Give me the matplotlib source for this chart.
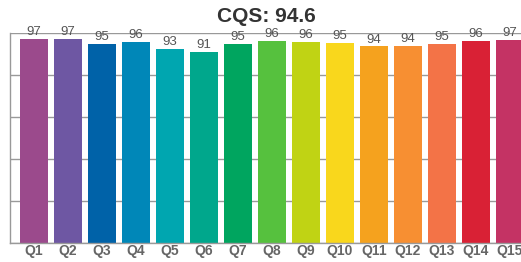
import matplotlib
matplotlib.use("Agg")
import matplotlib.pyplot as plt

categories = ["Q1", "Q2", "Q3", "Q4", "Q5", "Q6", "Q7", "Q8", "Q9", "Q10", "Q11", "Q12", "Q13", "Q14", "Q15"]
values = [97.0, 97.0, 95.0, 95.8, 92.6, 90.8, 95.0, 96.2, 95.8, 95.2, 93.6, 93.8, 95.0, 96.2, 96.8]
colors = ["#9B4A8C", "#6E57A3", "#0062A8", "#0087B8", "#00A6B0", "#00A78C", "#00A55F",
          "#56C13E", "#C0D314", "#F9D71C", "#F5A21E", "#F78F32", "#F37347", "#D92135", "#C43364"]
title = "CQS: 94.6"

plt.rcParams['font.family'] = ['Liberation Sans', 'DejaVu Sans']

W, H = 521, 262
fig = plt.figure(figsize=(W / 100, H / 100), dpi=100)
left_px, right_px, top_px, bot_px = 10, 534, 33, 243
ax = fig.add_axes([left_px / W, (H - bot_px) / H, (right_px - left_px) / W, (bot_px - top_px) / H])

x = list(range(len(categories)))
ax.bar(x, values, width=28 / 34, color=colors, zorder=2)
ax.set_xlim(-0.706, len(categories) - 1 + 0.706)
ax.set_ylim(0, 100)
ax.set_yticks([0, 20, 40, 60, 80, 100])
ax.yaxis.grid(True, color="#999999", linewidth=1, zorder=1)
ax.set_yticklabels([])
ax.tick_params(axis='both', length=0)
ax.set_xticks(x)
ax.set_xticklabels(categories, fontsize=10, fontweight='bold', color="#666666")
ax.tick_params(axis='x', pad=1)
for s in ["top", "right"]:
    ax.spines[s].set_visible(False)
for s in ["left", "bottom"]:
    ax.spines[s].set_color("#999999")
    ax.spines[s].set_linewidth(1)

for xi, v in zip(x, values):
    ax.text(xi, v + 0.4, f"{round(v)}", ha='center', va='bottom', fontsize=9.5, color="#555555", zorder=3)

fig.text(266 / W, 1 - 16 / H, title, ha='center', va='center', fontsize=15, fontweight='bold', color="#333333")

fig.savefig("out.png", dpi=100)
